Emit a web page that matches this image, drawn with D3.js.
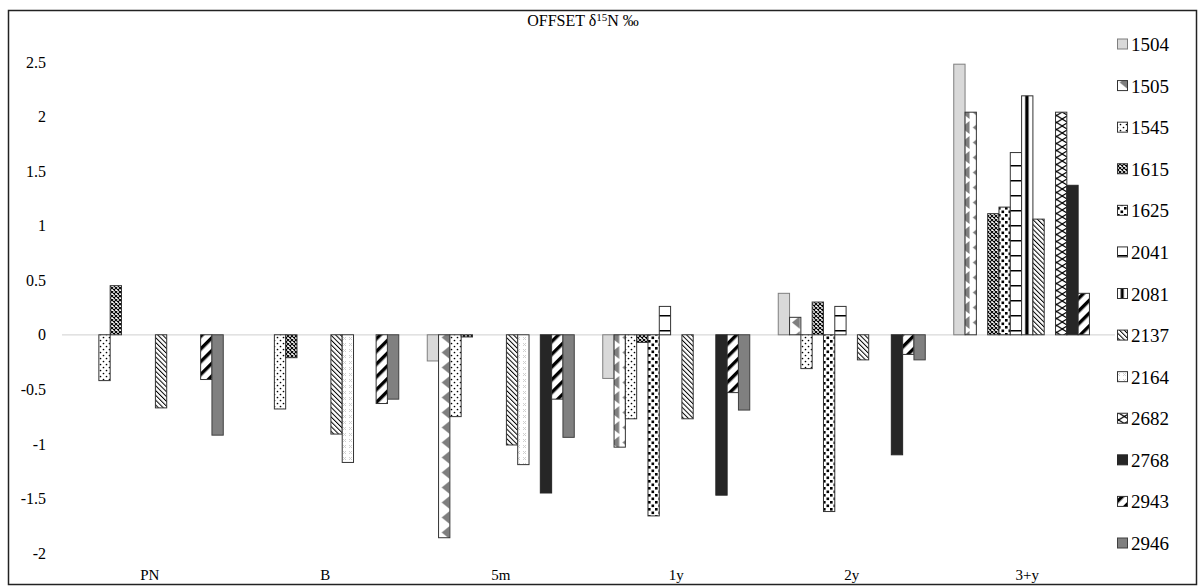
<!DOCTYPE html>
<html><head><meta charset="utf-8">
<script src="https://cdn.jsdelivr.net/npm/d3@7"></script>
<style>
body{margin:0;background:#fff}
svg{display:block}
text{font-family:"Liberation Serif","Times New Roman",serif;fill:#000}
</style></head>
<body><svg id="c" width="1198" height="586"></svg>
<script>
// ---- data ----
const categories = ["PN", "B", "5m", "1y", "2y", "3+y"];
const seriesNames = ["1504","1505","1545","1615","1625","2041","2081","2137","2164","2682","2768","2943","2946"];
const yTicks = [-2, -1.5, -1, -0.5, 0, 0.5, 1, 1.5, 2, 2.5];
// values per series across [PN, B, 5m, 1y, 2y, 3+y]; null = no bar
const s1504 = [null, null, -0.24, -0.40, 0.38, 2.48];
const s1505 = [null, null, -1.86, -1.03, 0.16, 2.04];
const s1545 = [-0.42, -0.68, -0.75, -0.77, -0.31, null];
const s1615 = [0.45, -0.21, -0.02, -0.07, 0.30, 1.11];
const s1625 = [null, null, null, -1.66, -1.62, 1.17];
const s2041 = [null, null, null, 0.26, 0.26, 1.67];
const s2081 = [null, null, null, null, null, 2.19];
const s2137 = [-0.67, -0.91, -1.01, -0.77, -0.23, 1.06];
const s2164 = [null, -1.17, -1.19, null, null, null];
const s2682 = [null, null, null, null, null, 2.04];
const s2768 = [null, null, -1.45, -1.47, -1.10, 1.37];
const s2943 = [-0.41, -0.63, -0.59, -0.53, -0.18, 0.38];
const s2946 = [-0.92, -0.59, -0.94, -0.69, -0.23, null];
const seriesValues = [s1504,s1505,s1545,s1615,s1625,s2041,s2081,s2137,s2164,s2682,s2768,s2943,s2946];

// ---- setup ----
const svg = d3.select("#c");
const defs = svg.append("defs");

function pattern(id, w, h, opts, draw) {
  const p = defs.append("pattern").attr("id", id)
    .attr("patternUnits", opts.units || "userSpaceOnUse")
    .attr("width", w).attr("height", h);
  if (opts.transform) p.attr("patternTransform", opts.transform);
  if (opts.content) p.attr("patternContentUnits", opts.content);
  draw(p);
}
pattern("p1505", 11.3, 15, {}, p => {
  p.append("rect").attr("width", 11.3).attr("height", 15).attr("fill", "#fff");
  p.append("polygon").attr("points", "1,7.5 9,1 9,14").attr("fill", "#7f7f7f");
});
pattern("p1545", 6, 6, {}, p => {
  p.append("rect").attr("width", 6).attr("height", 6).attr("fill", "#fff");
  p.append("circle").attr("cx", 1.5).attr("cy", 1.5).attr("r", 0.85).attr("fill", "#000");
  p.append("circle").attr("cx", 4.5).attr("cy", 4.5).attr("r", 0.85).attr("fill", "#000");
});
pattern("p1615", 4, 4, {}, p => {
  p.append("rect").attr("width", 4).attr("height", 4).attr("fill", "#fff");
  p.append("path").attr("d", "M0,0 L4,4 M4,0 L0,4").attr("stroke", "#000").attr("stroke-width", 1.1);
});
pattern("p1625", 7, 7, {}, p => {
  p.append("rect").attr("width", 7).attr("height", 7).attr("fill", "#fff");
  p.append("rect").attr("x", 0.5).attr("y", 0.5).attr("width", 2.6).attr("height", 2.6).attr("fill", "#000");
  p.append("rect").attr("x", 4).attr("y", 4).attr("width", 2.6).attr("height", 2.6).attr("fill", "#000");
});
pattern("p2041", 12, 15, {}, p => {
  p.append("rect").attr("width", 12).attr("height", 15).attr("fill", "#fff");
  p.append("rect").attr("y", 0).attr("width", 12).attr("height", 1.5).attr("fill", "#000");
});
pattern("p2081", 1, 1, {units: "objectBoundingBox", content: "objectBoundingBox"}, p => {
  p.append("rect").attr("width", 1).attr("height", 1).attr("fill", "#fff");
  p.append("rect").attr("x", 0.32).attr("width", 0.3).attr("height", 1).attr("fill", "#000");
});
pattern("p2137", 3.4, 4, {transform: "rotate(-45)"}, p => {
  p.append("rect").attr("width", 3.4).attr("height", 4).attr("fill", "#fff");
  p.append("rect").attr("width", 1).attr("height", 4).attr("fill", "#000");
});
pattern("p2164", 6, 6, {}, p => {
  p.append("rect").attr("width", 6).attr("height", 6).attr("fill", "#fff");
  p.append("path").attr("d", "M1,1 L4,4 M4,1 L1,4").attr("stroke", "#cfcfcf").attr("stroke-width", 1);
});
pattern("p2682", 11.3, 14, {}, p => {
  p.append("rect").attr("width", 11.3).attr("height", 14).attr("fill", "#fff");
  p.append("path").attr("d", "M0,0 L11.3,7 L0,14 M11.3,0 L0,7 L11.3,14")
    .attr("stroke", "#000").attr("stroke-width", 1.1).attr("fill", "none");
});
pattern("p2943", 9, 9, {transform: "rotate(45)"}, p => {
  p.append("rect").attr("width", 9).attr("height", 9).attr("fill", "#fff");
  p.append("rect").attr("width", 3.4).attr("height", 9).attr("fill", "#000");
});

const fills = {
  "1504": "#d9d9d9", "1505": "url(#p1505)", "1545": "url(#p1545)", "1615": "url(#p1615)",
  "1625": "url(#p1625)", "2041": "url(#p2041)", "2081": "url(#p2081)", "2137": "url(#p2137)",
  "2164": "url(#p2164)", "2682": "url(#p2682)", "2768": "#262626", "2943": "url(#p2943)",
  "2946": "#808080"
};
const strokes = {
  "1504": "#7f7f7f", "2768": "#262626", "2946": "#404040"
};

// ---- scales ----
const x0 = d3.scaleBand().domain(categories).range([62, 1115]).paddingInner(0).paddingOuter(0);
const groupW = 147;
const gOff = (x0.bandwidth() - groupW) / 2;
const x1 = d3.scaleBand().domain(seriesNames).range([gOff, gOff + groupW]).padding(0);
const y = d3.scaleLinear().domain([-2, 2.5]).range([553, 62]);

// frame
svg.append("rect").attr("x", 8.5).attr("y", 10.5).attr("width", 1188).attr("height", 574)
  .attr("fill", "none").attr("stroke", "#222").attr("stroke-width", 1.5);

// title
const title = svg.append("text").attr("x", 583).attr("y", 26).attr("text-anchor", "middle")
  .attr("font-size", 16);
title.append("tspan").text("OFFSET δ");
title.append("tspan").attr("font-size", 11).attr("dy", -5).text("15");
title.append("tspan").attr("dy", 5).text("N ‰");

// y axis
const ya = svg.append("g").attr("transform", "translate(50,0)")
  .call(d3.axisLeft(y).tickValues(yTicks).tickSize(0).tickPadding(4).tickFormat(d => String(d)));
ya.select(".domain").remove();
ya.selectAll("text").attr("font-size", 16).attr("font-family", "Liberation Serif");

// x axis labels
const xa = svg.append("g").attr("transform", "translate(0,566)")
  .call(d3.axisBottom(x0).tickSize(0).tickPadding(3));
xa.select(".domain").remove();
xa.selectAll("text").attr("font-size", 15).attr("font-family", "Liberation Serif");

// zero line
svg.append("line").attr("x1", 62).attr("x2", 1115).attr("y1", y(0)).attr("y2", y(0))
  .attr("stroke", "#d9d9d9").attr("stroke-width", 1.2);

// bars
const barData = [];
seriesNames.forEach((s, si) => {
  categories.forEach((c, ci) => {
    const v = seriesValues[si][ci];
    if (v !== null) barData.push({s, c, v});
  });
});
svg.append("g").selectAll("rect").data(barData).join("rect")
  .attr("x", d => x0(d.c) + x1(d.s))
  .attr("width", x1.bandwidth())
  .attr("y", d => Math.min(y(d.v), y(0)))
  .attr("height", d => Math.abs(y(d.v) - y(0)))
  .attr("fill", d => fills[d.s])
  .attr("stroke", d => strokes[d.s] || "#333")
  .attr("stroke-width", 1);

// legend
const leg = svg.append("g");
const legY = d3.scalePoint().domain(seriesNames).range([44, 543]);
seriesNames.forEach(s => {
  const cy = legY(s);
  leg.append("rect").attr("x", 1117.5).attr("y", cy - 5).attr("width", 10).attr("height", 10)
    .attr("fill", fills[s]).attr("stroke", strokes[s] || "#333").attr("stroke-width", 1);
  leg.append("text").attr("x", 1131).attr("y", cy + 7).attr("font-size", 19).text(s);
});
</script></body></html>
